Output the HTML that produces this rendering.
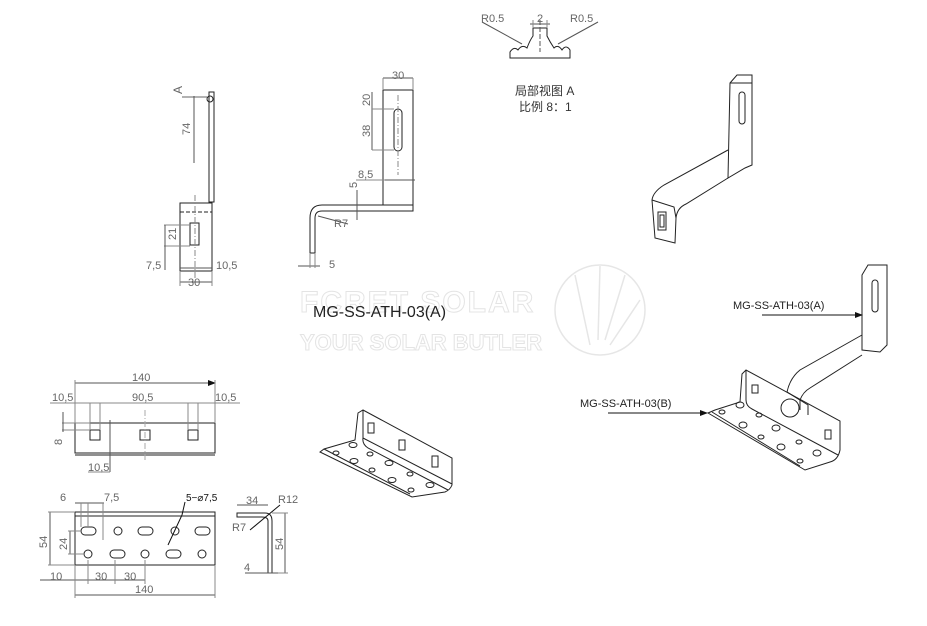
<!DOCTYPE html>
<html><head><meta charset="utf-8"><style>
html,body{margin:0;padding:0;background:#fff;}
svg{display:block;}
text{font-family:"Liberation Sans","Noto Sans CJK SC",sans-serif;}
.d{font-size:11px;fill:#666;}
</style></head><body>
<svg width="927" height="626" viewBox="0 0 927 626" xmlns="http://www.w3.org/2000/svg">
<defs><marker id="a" markerWidth="8" markerHeight="6" refX="7" refY="3" orient="auto"><path d="M0,0 L8,3 L0,6z" fill="#111"/></marker></defs>
<!-- watermark -->
<g fill="none" stroke="#e6e6e6" stroke-width="1.5">
<circle cx="600" cy="310" r="45"/>
<path d="M575 275 L590 345 M600 266 L598 340 M625 275 L605 340 M640 300 L610 345"/>
</g>
<text x="300" y="312" font-size="30" font-weight="bold" fill="none" stroke="#e4e4e4" letter-spacing="2">FCRET SOLAR</text>
<text x="300" y="350" font-size="22" font-weight="bold" fill="none" stroke="#e4e4e4">YOUR SOLAR BUTLER</text>

<g stroke="#222" stroke-width="1" fill="none">
<!-- view 1 -->
<rect x="209" y="92" width="5" height="110"/>
<circle cx="210" cy="99" r="3"/>
<line x1="182" y1="97" x2="207" y2="97" stroke="#666"/>
<rect x="180" y="203" width="32" height="68"/>
<line x1="180" y1="212" x2="212" y2="212" stroke-dasharray="4,2"/>
<rect x="190" y="223" width="9" height="22"/>
<line x1="195" y1="195" x2="195" y2="280" stroke="#888" stroke-dasharray="6,2,1,2"/>
<line x1="194" y1="96" x2="194" y2="163" stroke="#555"/>
<line x1="164" y1="225" x2="190" y2="225" stroke="#888"/><line x1="164" y1="246" x2="190" y2="246" stroke="#888"/>
<line x1="165" y1="225" x2="165" y2="270" stroke="#555"/>
<line x1="180" y1="268" x2="212" y2="268" stroke="#555"/>
<line x1="180" y1="282" x2="212" y2="282" stroke="#555"/>
<line x1="180" y1="271" x2="180" y2="286" stroke="#888"/><line x1="212" y1="271" x2="212" y2="286" stroke="#888"/>
<!-- view 2 -->
<rect x="383" y="90" width="30" height="115"/>
<rect x="394" y="109" width="8" height="42" rx="4"/>
<line x1="398" y1="95" x2="398" y2="175" stroke="#888" stroke-dasharray="6,2,1,2"/>
<path d="M413 205 L413 211 L322 211 Q315 211 315 218 L315 253 L310 253 L310 218 Q310 205 322 205 Z"/>
<line x1="383" y1="78" x2="413" y2="78" stroke="#555"/>
<line x1="383" y1="78" x2="383" y2="90" stroke="#888"/><line x1="413" y1="78" x2="413" y2="90" stroke="#888"/>
<line x1="372" y1="92" x2="372" y2="150" stroke="#555"/>
<line x1="372" y1="109" x2="394" y2="109" stroke="#888"/><line x1="372" y1="150" x2="394" y2="150" stroke="#888"/>
<line x1="385" y1="180" x2="415" y2="180" stroke="#555"/>
<line x1="356" y1="180" x2="385" y2="180" stroke="#888"/>
<line x1="357" y1="190" x2="357" y2="220" stroke="#555"/>
<line x1="318" y1="216" x2="348" y2="224" stroke="#555"/>
<line x1="298" y1="266" x2="320" y2="266" stroke="#555"/>
<line x1="310" y1="253" x2="310" y2="268" stroke="#888"/><line x1="315" y1="253" x2="315" y2="268" stroke="#888"/>
<!-- detail A -->
<path d="M510 52 Q514 46 518 50 Q522 44 527 48 Q530 40 533 36 L533 28 L547 28 L547 36 Q550 42 554 48 Q558 44 562 50 Q566 44 570 50 L570 58 L510 58 Z" />
<line x1="540" y1="20" x2="540" y2="52" stroke="#555" stroke-dasharray="5,2"/>
<line x1="530" y1="24" x2="550" y2="24" stroke="#555"/>
<line x1="533" y1="20" x2="533" y2="28" stroke="#888"/><line x1="547" y1="20" x2="547" y2="28" stroke="#888"/>
<line x1="482" y1="22" x2="522" y2="44" stroke="#555"/><line x1="598" y1="22" x2="558" y2="44" stroke="#555"/>
<!-- 3D top right -->
<path d="M730 83 L737 75 L752 75 L752 165 L745 168 L728 178 Z"/>
<path d="M730 83 L752 83" />
<rect x="739" y="92" width="6" height="32" rx="3"/>
<path d="M728 150 L664 185 Q653 192 652 200 L655 238 L675 243 L676 218 Q677 208 686 204 L728 178"/>
<path d="M652 200 L674 207 L676 218"/>
<rect x="658" y="212" width="8" height="18"/><rect x="660" y="215" width="4" height="12"/>
<!-- view front bottom left -->
<rect x="75" y="423" width="140" height="30"/>
<line x1="75" y1="455" x2="215" y2="455"/>
<rect x="90" y="430" width="10" height="10"/><rect x="140" y="430" width="10" height="10"/><rect x="188" y="430" width="10" height="10"/>
<line x1="145" y1="410" x2="145" y2="460" stroke="#aaa" stroke-dasharray="6,2,1,2"/>
<line x1="75" y1="383" x2="215" y2="383" stroke="#555" marker-end="url(#a)"/>
<line x1="75" y1="380" x2="75" y2="423" stroke="#888"/><line x1="215" y1="380" x2="215" y2="423" stroke="#888"/>
<line x1="50" y1="403" x2="240" y2="403" stroke="#888"/>
<line x1="90" y1="403" x2="90" y2="430" stroke="#888"/><line x1="100" y1="403" x2="100" y2="430" stroke="#888"/>
<line x1="188" y1="403" x2="188" y2="430" stroke="#888"/><line x1="198" y1="403" x2="198" y2="430" stroke="#888"/>
<line x1="62" y1="423" x2="90" y2="423" stroke="#888"/><line x1="62" y1="430" x2="90" y2="430" stroke="#888"/>
<line x1="63" y1="412" x2="63" y2="432" stroke="#555"/>
<line x1="110" y1="420" x2="110" y2="472" stroke="#555"/>
<line x1="88" y1="472" x2="110" y2="472" stroke="#888"/>
<!-- view bottom -->
<rect x="75" y="512" width="140" height="53"/>
<line x1="75" y1="516" x2="215" y2="516"/>
<g>
<rect x="81" y="527" width="15" height="8" rx="4"/><circle cx="118" cy="531" r="4"/><rect x="138" y="527" width="15" height="8" rx="4"/><circle cx="175" cy="531" r="4"/><rect x="195" y="527" width="15" height="8" rx="4"/>
<circle cx="88" cy="554" r="4"/><rect x="110" y="550" width="15" height="8" rx="4"/><circle cx="145" cy="554" r="4"/><rect x="166" y="550" width="15" height="8" rx="4"/><circle cx="202" cy="554" r="4"/>
</g>
<line x1="50" y1="512" x2="50" y2="565" stroke="#555"/>
<line x1="48" y1="512" x2="75" y2="512" stroke="#888"/><line x1="48" y1="565" x2="75" y2="565" stroke="#888"/>
<line x1="70" y1="531" x2="70" y2="554" stroke="#555"/>
<line x1="68" y1="531" x2="81" y2="531" stroke="#888"/><line x1="68" y1="554" x2="85" y2="554" stroke="#888"/>
<line x1="75" y1="503" x2="104" y2="503" stroke="#555"/>
<line x1="81" y1="503" x2="81" y2="527" stroke="#888"/><line x1="88" y1="503" x2="88" y2="527" stroke="#888"/>
<line x1="103" y1="503" x2="103" y2="540" stroke="#888"/>
<line x1="168" y1="545" x2="182" y2="515" stroke="#111"/><line x1="182" y1="515" x2="185" y2="502" stroke="#111"/>
<line x1="40" y1="580" x2="145" y2="580" stroke="#555"/>
<line x1="88" y1="560" x2="88" y2="584" stroke="#888"/><line x1="115" y1="560" x2="115" y2="584" stroke="#888"/><line x1="145" y1="560" x2="145" y2="584" stroke="#888"/>
<line x1="75" y1="595" x2="215" y2="595" stroke="#555"/>
<line x1="75" y1="565" x2="75" y2="598" stroke="#888"/><line x1="215" y1="565" x2="215" y2="598" stroke="#888"/>
<!-- L side -->
<path d="M237 513 L265 513 Q272 513 272 521 L272 573 L268 573 L268 521 Q268 517 262 517 L237 517 Z"/>
<line x1="237" y1="505" x2="268" y2="505" stroke="#555"/>
<line x1="285" y1="513" x2="285" y2="573" stroke="#555"/>
<line x1="272" y1="513" x2="288" y2="513" stroke="#888"/><line x1="272" y1="573" x2="288" y2="573" stroke="#888"/>
<line x1="245" y1="573" x2="278" y2="573" stroke="#555"/>
<line x1="250" y1="530" x2="280" y2="505" stroke="#111"/>
<!-- middle 3D -->
<path d="M358 413 L363 410 L452 458 L452 485 Q450 490 445 492 L412 497 L320 452 L324 449 L355 440 Z"/>
<path d="M363 410 L363 438 Q362 444 368 448 L448 490 M363 438 L452 484"/>
<path d="M324 449 L410 494"/>
<rect x="368" y="423" width="6" height="10"/><rect x="399" y="440" width="6" height="10"/><rect x="432" y="456" width="6" height="11"/>
<ellipse cx="353" cy="445" rx="4" ry="2.5"/><ellipse cx="336" cy="453" rx="3" ry="2"/><ellipse cx="370" cy="454" rx="3" ry="2"/>
<ellipse cx="354" cy="461" rx="4" ry="2.5"/><ellipse cx="389" cy="463" rx="4" ry="2.5"/><ellipse cx="372" cy="470" rx="3" ry="2"/>
<ellipse cx="410" cy="474" rx="3" ry="2"/><ellipse cx="392" cy="480" rx="4" ry="2.5"/><ellipse cx="411" cy="490" rx="3" ry="2"/><ellipse cx="430" cy="485" rx="4" ry="2.5"/>
<!-- right assembly -->
<path d="M862 275 L868 265 L887 265 L887 345 L880 352 L862 350 Z"/>
<rect x="872" y="280" width="6" height="32" rx="3"/>
<path d="M862 335 L800 370 Q790 378 787 392 L800 400 Q803 392 810 388 L862 355"/>
<path d="M787 392 L808 405 L808 415 M800 400 L800 410"/>
<circle cx="790" cy="408" r="9"/>
<path d="M742 374 L746 370 L840 421 L840 450 Q838 460 830 462 L805 470 L708 413 L715 410 L740 402 Z"/>
<path d="M746 370 L746 400 Q746 406 752 409 L838 455 M712 412 L800 466"/>
<rect x="752" y="385" width="6" height="8"/><rect x="825" y="430" width="6" height="9"/>
<ellipse cx="740" cy="405" rx="4" ry="3"/><ellipse cx="722" cy="412" rx="3" ry="2"/><ellipse cx="759" cy="415" rx="3" ry="2"/>
<ellipse cx="743" cy="425" rx="4" ry="3"/><ellipse cx="776" cy="428" rx="4" ry="3"/><ellipse cx="761" cy="437" rx="3" ry="2"/>
<ellipse cx="799" cy="442" rx="3" ry="2"/><ellipse cx="781" cy="447" rx="4" ry="3"/><ellipse cx="817" cy="453" rx="4" ry="3"/><ellipse cx="800" cy="461" rx="3" ry="2"/>
<line x1="762" y1="315" x2="862" y2="315" stroke="#111" marker-end="url(#a)"/>
<line x1="608" y1="413" x2="707" y2="413" stroke="#111" marker-end="url(#a)"/>
</g>
<!-- text -->
<g class="d">
<text x="182" y="94" transform="rotate(-90 182 94)" font-size="12">A</text>
<text x="190" y="135" transform="rotate(-90 190 135)">74</text>
<text x="176" y="240" transform="rotate(-90 176 240)">21</text>
<text x="146" y="269">7,5</text><text x="216" y="269">10,5</text><text x="188" y="286">30</text>
<text x="392" y="79">30</text>
<text x="370" y="106" transform="rotate(-90 370 106)">20</text>
<text x="370" y="137" transform="rotate(-90 370 137)">38</text>
<text x="358" y="178">8,5</text>
<text x="357" y="188" transform="rotate(-90 357 188)">5</text>
<text x="334" y="227">R7</text><text x="329" y="268">5</text>
<text x="481" y="22">R0.5</text><text x="537" y="22">2</text><text x="570" y="22">R0.5</text>
<text x="132" y="381">140</text><text x="52" y="401">10,5</text><text x="132" y="401">90,5</text><text x="215" y="401">10,5</text>
<text x="62" y="445" transform="rotate(-90 62 445)">8</text><text x="88" y="471">10,5</text>
<text x="60" y="501">6</text><text x="104" y="501">7,5</text>
<text x="47" y="548" transform="rotate(-90 47 548)">54</text>
<text x="67" y="550" transform="rotate(-90 67 550)">24</text>
<text x="50" y="580">10</text><text x="95" y="580">30</text><text x="124" y="580">30</text><text x="135" y="593">140</text>
<text x="246" y="504">34</text><text x="278" y="503">R12</text><text x="232" y="531">R7</text>
<text x="283" y="550" transform="rotate(-90 283 550)">54</text><text x="244" y="571">4</text>
</g>
<text x="186" y="501" font-size="10" fill="#111">5−⌀7,5</text>
<text x="515" y="95" font-size="12" fill="#333">局部视图 A</text>
<text x="519" y="111" font-size="12" fill="#333">比例 8：1</text>
<text x="313" y="317" font-size="16" fill="#222">MG-SS-ATH-03(A)</text>
<text x="733" y="309" font-size="11" fill="#222">MG-SS-ATH-03(A)</text>
<text x="580" y="407" font-size="11" fill="#222">MG-SS-ATH-03(B)</text>
</svg>
</body></html>
